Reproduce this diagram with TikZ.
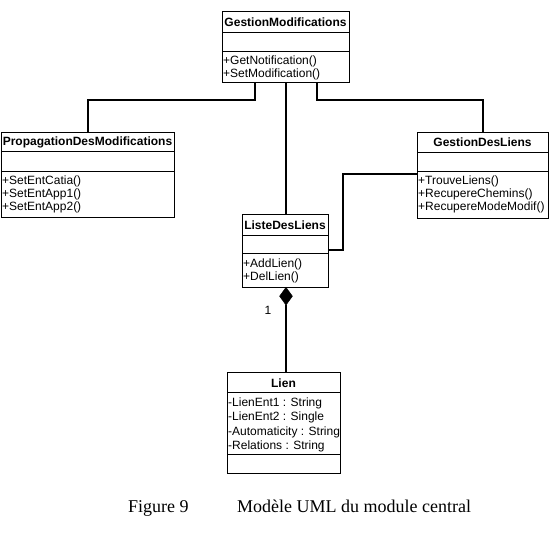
\documentclass[tikz,border=0pt]{standalone}
\usepackage{fontspec}
\setmainfont{Liberation Serif}
\newfontfamily\umlfont{Liberation Sans}
\usetikzlibrary{shapes.geometric}
\tikzset{
  box/.style={draw, line width=1pt, rectangle, inner sep=0pt, anchor=north west},
  sep/.style={line width=1pt},
  conn/.style={line width=1.4pt},
  ttl/.style={font=\umlfont\fontsize{12}{14}\selectfont\bfseries, inner sep=0pt},
  mth/.style={font=\umlfont\fontsize{12}{14}\selectfont, inner sep=0pt, anchor=west},
  captext/.style={font=\fontsize{18}{20}\selectfont, inner sep=0pt, anchor=base west},
}
\begin{document}
\begin{tikzpicture}[x=1pt,y=-1pt]
\useasboundingbox (0,0) rectangle (552,537);
% GestionModifications
\node[box, minimum width=127pt, minimum height=71pt] (gm) at (222,11) {};
\draw[sep] (222,33) -- (349,33) (222,52) -- (349,52);
\node[ttl] (gmt) at (285.5,22) {GestionModifications};
\node[mth] (gm1) at (223,61) {+GetNotification()};
\node[mth] (gm2) at (223,74) {+SetModification()};
% PropagationDesModifications
\node[box, minimum width=173pt, minimum height=85pt] (pdm) at (1,132) {};
\draw[sep] (1,152) -- (174,152) (1,172) -- (174,172);
\node[ttl] (pdmt) at (87.5,142) {PropagationDesModifications};
\node[mth] (pdm1) at (2,181) {+SetEntCatia()};
\node[mth] (pdm2) at (2,194) {+SetEntApp1()};
\node[mth] (pdm3) at (2,207) {+SetEntApp2()};
% GestionDesLiens
\node[box, minimum width=131pt, minimum height=86pt] (gdl) at (417,132) {};
\draw[sep] (417,153) -- (548,153) (417,172) -- (548,172);
\node[ttl] (gdlt) at (482.5,142.5) {GestionDesLiens};
\node[mth] (gdl1) at (418,181) {+TrouveLiens()};
\node[mth] (gdl2) at (418,194) {+RecupereChemins()};
\node[mth] (gdl3) at (418,207) {+RecupereModeModif()};
% ListeDesLiens
\node[box, minimum width=86pt, minimum height=73pt] (ldl) at (242,214) {};
\draw[sep] (242,236) -- (328,236) (242,254) -- (328,254);
\node[ttl] (ldlt) at (285,225) {ListeDesLiens};
\node[mth] (ldl1) at (243,264) {+AddLien()};
\node[mth] (ldl2) at (243,277) {+DelLien()};
% Lien
\node[box, minimum width=113pt, minimum height=101pt] (lien) at (227,372) {};
\draw[sep] (227,393) -- (340,393) (227,455) -- (340,455);
\node[ttl] (lient) at (283.5,383) {Lien};
\node[mth] (l1) at (228,403) {-LienEnt1 : String};
\node[mth] (l2) at (228,417) {-LienEnt2 : Single};
\node[mth] (l3) at (228,432) {-Automaticity : String};
\node[mth] (l4) at (228,446) {-Relations : String};
% connectors
\draw[conn] ([xshift=33pt]gm.south west) -- ++(0,17) -| (pdm.north);
\draw[conn] ([xshift=95pt]gm.south west) -- ++(0,17) -| (gdl.north);
\draw[conn] (gm.south) -- (gm.south |- ldl.north);
\coordinate (bend) at (343,250);
\draw[conn] (ldl.east |- bend) -- (bend) |- (gdl.west |- 0,174);
% composition
\node[diamond, fill=black, draw=black, inner sep=0pt, minimum width=13pt, minimum height=18pt, anchor=north] (dia) at (286,287) {};
\draw[conn] (dia.south) -- (dia.south |- lien.north);
\node[mth, anchor=center] (one) at (268,310) {1};
% caption
\node[captext] (fig) at (128,512) {Figure 9};
\node[captext] (capt) at (237,512) {Modèle UML du module central};
\end{tikzpicture}
\end{document}
